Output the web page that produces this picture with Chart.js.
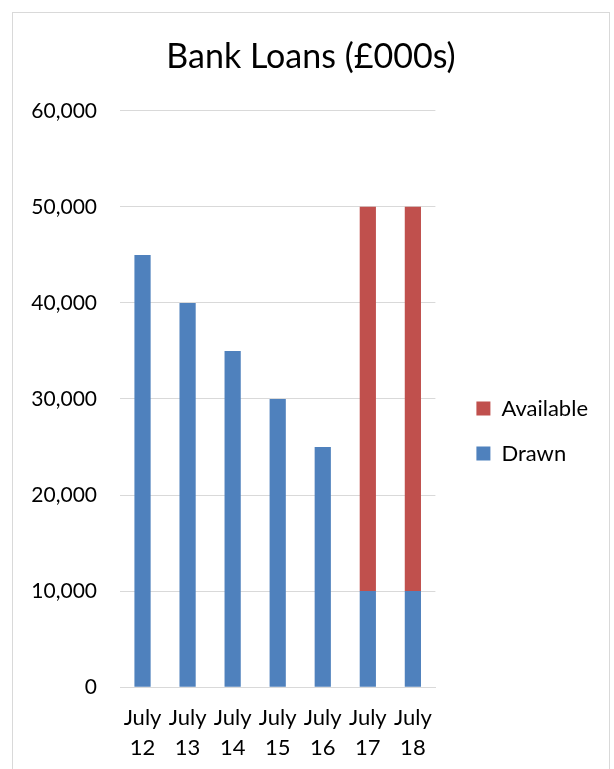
<!DOCTYPE html>
<html>
<head>
<meta charset="utf-8">
<script src="https://cdn.jsdelivr.net/npm/chart.js@4.4.1/dist/chart.umd.min.js"></script>
<style>
  html, body { margin: 0; padding: 0; background: #fff; overflow: hidden; }
  #frame {
    position: absolute; left: 12px; top: 12px;
    width: 596px; height: 790px;
    border: 1px solid #d9d9d9;
  }
  #frame canvas { display: block; }
</style>
</head>
<body>
<div id="frame"><canvas id="myChart" width="596" height="772"></canvas></div>
<script>
// Chart data
const months = [['July', '12'], ['July', '13'], ['July', '14'], ['July', '15'], ['July', '16'], ['July', '17'], ['July', '18']];
const drawn = [45000, 40000, 35000, 30000, 25000, 10000, 10000];
const available = [0, 0, 0, 0, 0, 40000, 40000];

const fontFamily = 'Lato, "Open Sans", sans-serif';

const ctx = document.getElementById('myChart').getContext('2d');
new Chart(ctx, {
    type: 'bar',
    data: {
        labels: months,
        datasets: [
            { label: 'Drawn', data: drawn, backgroundColor: '#4f81bd', barPercentage: 0.36, categoryPercentage: 1 },
            { label: 'Available', data: available, backgroundColor: '#c0504d', barPercentage: 0.36, categoryPercentage: 1 }
        ]
    },
    options: {
        responsive: false,
        animation: false,
        layout: {
            padding: { left: 11, right: 11, top: 0, bottom: 6 }
        },
        plugins: {
            title: {
                display: true,
                text: 'Bank Loans (£000s)',
                color: '#000',
                font: { family: fontFamily, size: 34, weight: 'normal', lineHeight: 1.2 },
                padding: { top: 24, bottom: 33 }
            },
            legend: {
                position: 'right',
                reverse: true,
                maxWidth: 220,
                // blank title only pushes the two items down a little
                title: { display: true, text: ' ', font: { size: 10 }, padding: { top: 0, bottom: 58 } },
                labels: {
                    color: '#000',
                    font: { family: fontFamily, size: 22 },
                    boxWidth: 14,
                    boxHeight: 14,
                    padding: 23
                }
            },
            tooltip: { enabled: false }
        },
        scales: {
            x: {
                stacked: true,
                grid: { display: false, drawTicks: false },
                border: { color: '#d9d9d9' },
                ticks: {
                    color: '#000',
                    font: { family: fontFamily, size: 22, lineHeight: 1.36 },
                    maxRotation: 0,
                    padding: 16
                }
            },
            y: {
                stacked: true,
                min: 0,
                max: 60000,
                grid: { color: '#d9d9d9', drawTicks: false },
                border: { display: false },
                afterFit: s => { s.width = 96; },
                ticks: {
                    stepSize: 10000,
                    color: '#000',
                    font: { family: fontFamily, size: 21 },
                    padding: 23,
                    callback: v => v.toLocaleString('en-US')
                }
            },
            // empty axis that only keeps the gap between the plot and the legend
            gap: {
                position: 'right',
                grid: { display: false, drawTicks: false },
                border: { display: false },
                ticks: { display: false },
                afterFit: s => { s.width = 18; }
            }
        }
    }
});
</script>
</body>
</html>
